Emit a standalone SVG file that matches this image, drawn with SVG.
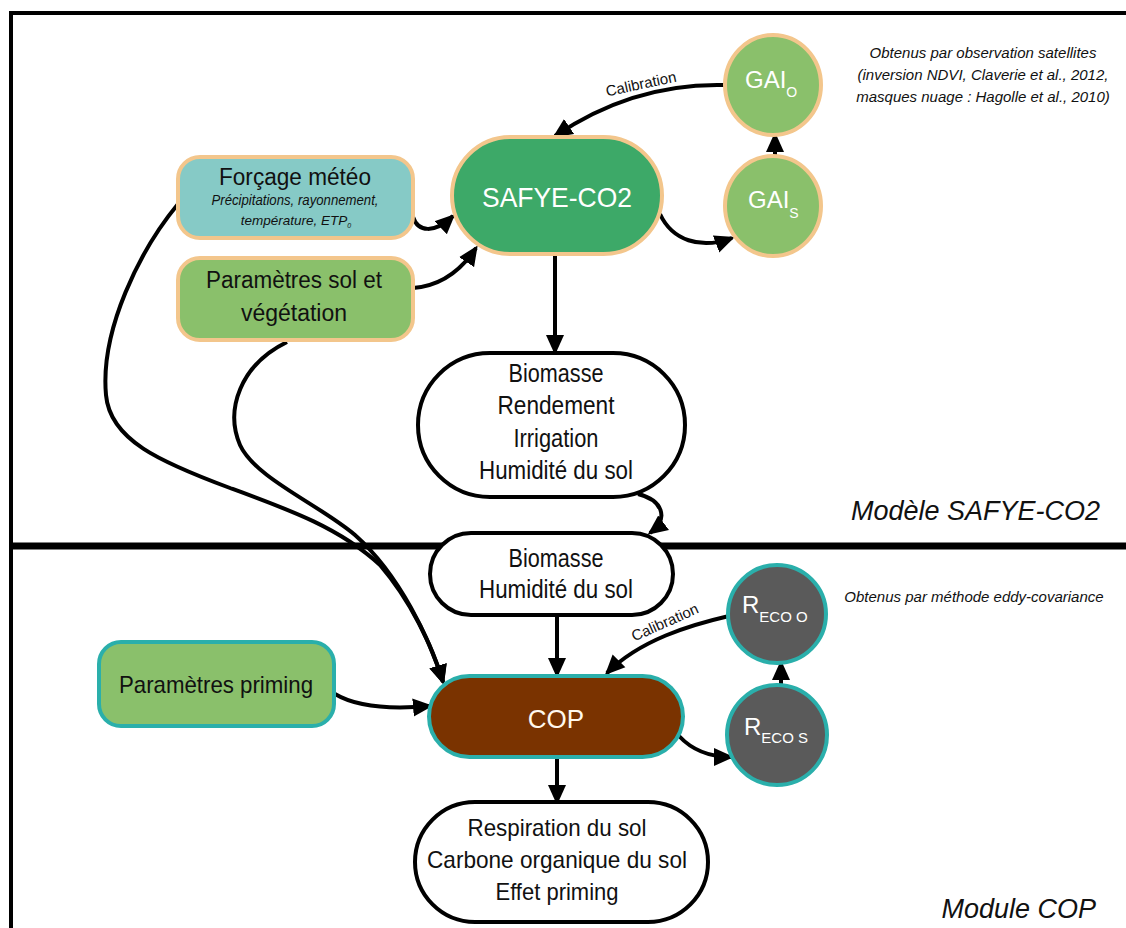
<svg xmlns="http://www.w3.org/2000/svg" width="1126" height="928" viewBox="0 0 1126 928">
<style>
text{font-family:"Liberation Sans",Arial,sans-serif;fill:#111}
.c{text-anchor:middle}
.w{fill:#fff}
.it{font-style:italic}
.conn path{fill:none;stroke:#000;stroke-width:4}
.or{stroke:#F3C68C;stroke-width:4}
.tl{stroke:#2AAFAB;stroke-width:4}
.out{fill:#fff;stroke:#000;stroke-width:4}
.gr{fill:#8AC06B}
.dk{fill:#5A5A5A}
.t25{font-size:25px}
.t23{font-size:23px}
.t24{font-size:24px}
.note{font-size:15px;font-style:italic}
</style>
<defs>
<marker id="ah" markerUnits="userSpaceOnUse" markerWidth="20" markerHeight="20" viewBox="0 0 20 20" refX="17" refY="10" orient="auto">
<path d="M0,1 L20,10 L0,19 z" fill="#000"/>
</marker>
</defs>
<rect width="1126" height="928" fill="#fff"/>
<g id="frame">
<path d="M11 928 V13 H1126" fill="none" stroke="#000" stroke-width="4"/>
<line x1="11" y1="546" x2="1126" y2="546" stroke="#000" stroke-width="7"/>
</g>
<g id="connectors" class="conn">
<path d="M413 217 C418 232,434 234,453 216" marker-end="url(#ah)"/>
<path d="M413 288 C440 286,460 272,476 248" marker-end="url(#ah)"/>
<path d="M555 254 V352" marker-end="url(#ah)"/>
<path d="M724 85 C680 84,620 92,555 136" marker-end="url(#ah)"/>
<path d="M660 214 C672 240,700 250,732 238" marker-end="url(#ah)"/>
<path d="M775 156 V135" marker-end="url(#ah)"/>
<path d="M638 494 C662 500,670 518,650 533" marker-end="url(#ah)"/>
<path d="M178 204 C140 250,100 330,106 395 C110 440,160 462,230 488 C290 510,340 528,380 565 C410 600,432 645,443 682" marker-end="url(#ah)"/>
<path d="M287 342 C240 365,225 410,240 445 C255 478,320 505,355 535 C400 575,430 640,443 682" marker-end="url(#ah)"/>
<path d="M557 615 V675" marker-end="url(#ah)"/>
<path d="M335 694 C355 706,385 710,430 706" marker-end="url(#ah)"/>
<path d="M729 616 C690 625,640 640,607 673" marker-end="url(#ah)"/>
<path d="M679 736 C692 750,708 757,731 757" marker-end="url(#ah)"/>
<path d="M781 685 V663" marker-end="url(#ah)"/>
<path d="M557 757 V802" marker-end="url(#ah)"/>
<text x="642" y="89" transform="rotate(-12 642 89)" class="c" font-size="15">Calibration</text>
<text x="667" y="627" transform="rotate(-24 667 627)" class="c" font-size="15">Calibration</text>
</g>
<g id="forcage">
<rect x="178" y="157" width="235" height="81" rx="22" fill="#86CAC6" class="or"/>
<text x="295" y="185" class="c t23" textLength="152" lengthAdjust="spacingAndGlyphs">Forçage météo</text>
<text x="295" y="205" class="c it" font-size="14" textLength="167" lengthAdjust="spacingAndGlyphs">Précipitations, rayonnement,</text>
<text x="296" y="225" class="c it" font-size="13.5">température, ETP<tspan font-size="7" dy="3">0</tspan></text>
</g>
<g id="params-sol">
<rect x="178" y="258" width="235" height="82" rx="22" class="gr or"/>
<text x="294" y="288" class="c t23" textLength="176" lengthAdjust="spacingAndGlyphs">Paramètres sol et</text>
<text x="294" y="321" class="c t23">végétation</text>
</g>
<g id="safye">
<rect x="452" y="137" width="210" height="117" rx="58.5" fill="#3DA968" class="or"/>
<text x="557" y="207" class="c w" font-size="28" textLength="150" lengthAdjust="spacingAndGlyphs">SAFYE-CO2</text>
</g>
<g id="gai-o">
<ellipse cx="773" cy="85" rx="48" ry="50" class="gr or"/>
<text x="745" y="88" class="w t24">GAI<tspan font-size="14" dy="9">O</tspan></text>
</g>
<g id="gai-s">
<ellipse cx="773" cy="206" rx="48" ry="50" class="gr or"/>
<text x="748" y="208" class="w t24">GAI<tspan font-size="14" dy="10">S</tspan></text>
</g>
<g id="sorties-safye">
<rect x="418" y="353" width="267" height="144" rx="72" class="out"/>
<text x="556" y="382" class="c t25" textLength="95" lengthAdjust="spacingAndGlyphs">Biomasse</text>
<text x="556" y="414" class="c t25" textLength="117" lengthAdjust="spacingAndGlyphs">Rendement</text>
<text x="556" y="447" class="c t25" textLength="85" lengthAdjust="spacingAndGlyphs">Irrigation</text>
<text x="556" y="479" class="c t25" textLength="154" lengthAdjust="spacingAndGlyphs">Humidité du sol</text>
</g>
<g id="entrees-cop">
<rect x="430" y="533" width="243" height="82" rx="41" class="out"/>
<text x="556" y="567" class="c t25" textLength="95" lengthAdjust="spacingAndGlyphs">Biomasse</text>
<text x="556" y="598" class="c t25" textLength="154" lengthAdjust="spacingAndGlyphs">Humidité du sol</text>
</g>
<g id="params-priming">
<rect x="99" y="642" width="235" height="84" rx="22" class="gr tl"/>
<text x="216" y="693" class="c t24" textLength="194" lengthAdjust="spacingAndGlyphs">Paramètres priming</text>
</g>
<g id="cop">
<rect x="429" y="676" width="254" height="81" rx="40.5" fill="#7A3300" class="tl"/>
<text x="556" y="728" class="c" font-size="26" style="fill:#FFF8EE">COP</text>
</g>
<g id="reco-o">
<circle cx="777" cy="614" r="49" class="dk tl"/>
<text x="742" y="613" class="w t24">R<tspan font-size="15" dy="9">ECO O</tspan></text>
</g>
<g id="reco-s">
<circle cx="777" cy="735" r="50" class="dk tl"/>
<text x="744" y="735" class="w t24">R<tspan font-size="15" dy="8">ECO S</tspan></text>
</g>
<g id="sorties-cop">
<rect x="415" y="802" width="293" height="120" rx="60" class="out"/>
<text x="557" y="836" class="c t24" textLength="179" lengthAdjust="spacingAndGlyphs">Respiration du sol</text>
<text x="557" y="868" class="c t24" textLength="260" lengthAdjust="spacingAndGlyphs">Carbone organique du sol</text>
<text x="557" y="900" class="c t24" textLength="123" lengthAdjust="spacingAndGlyphs">Effet priming</text>
</g>
<g id="notes">
<text x="983" y="58" class="c note">Obtenus par observation satellites</text>
<text x="983" y="80" class="c note">(inversion NDVI, Claverie et al., 2012,</text>
<text x="983" y="102" class="c note">masques nuage : Hagolle et al., 2010)</text>
<text x="974" y="602" class="c note">Obtenus par méthode eddy-covariance</text>
<text x="1100" y="520" font-size="27" class="it" text-anchor="end">Modèle SAFYE-CO2</text>
<text x="1096" y="918" font-size="27" class="it" text-anchor="end">Module COP</text>
</g>
</svg>
